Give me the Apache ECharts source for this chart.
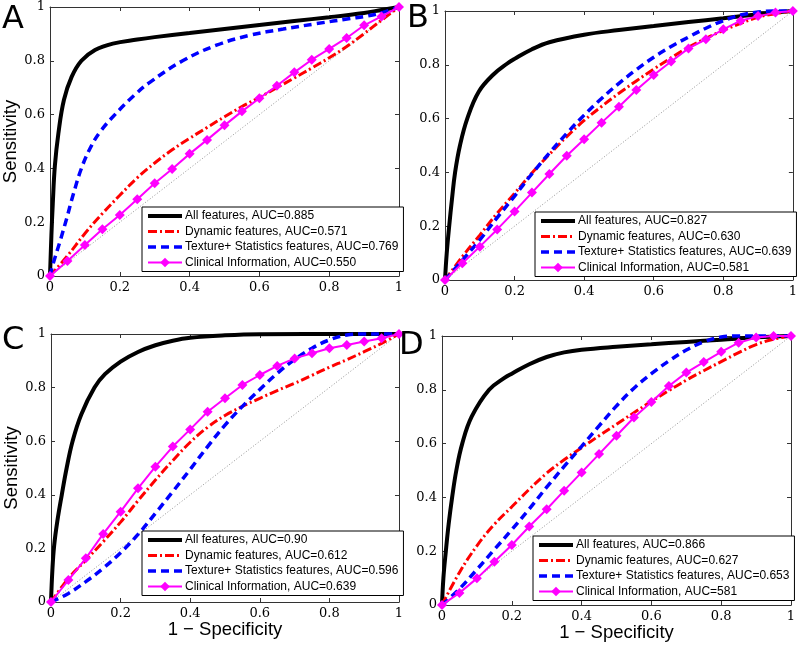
<!DOCTYPE html>
<html>
<head>
<meta charset="utf-8">
<title>ROC curves</title>
<script src="https://cdn.jsdelivr.net/npm/echarts@6/dist/echarts.min.js"></script>
<style>
  html, body { margin: 0; padding: 0; background: #fff; }
  #main { width: 800px; height: 646px; }
</style>
</head>
<body>
<div id="main"></div>
<script>
// false positive rate grid used by the sampled curves (marker positions)
const fpr = [0, 0.05, 0.1, 0.15, 0.2, 0.25, 0.3, 0.35, 0.4, 0.45, 0.5,
  0.55, 0.6, 0.65, 0.7, 0.75, 0.8, 0.85, 0.9, 0.95, 1];

// panel A
const namesA = ['All features, AUC=0.885', 'Dynamic features, AUC=0.571',
  'Texture+ Statistics features, AUC=0.769', 'Clinical Information, AUC=0.550'];
const aAll = [[0, 0], [0.004, 0.15], [0.008, 0.27], [0.014, 0.41], [0.024, 0.53], [0.04, 0.655],
  [0.062, 0.74], [0.09, 0.8], [0.129, 0.84], [0.18, 0.864], [0.25, 0.879], [0.3, 0.888], [0.4, 0.903],
  [0.5, 0.918], [0.6, 0.933], [0.7, 0.948], [0.8, 0.962], [0.9, 0.978], [0.95, 0.989], [1, 1]];
const aDyn = [0, 0.075, 0.158, 0.232, 0.30, 0.365, 0.42, 0.469, 0.512, 0.552, 0.592,
  0.63, 0.664, 0.7, 0.736, 0.773, 0.811, 0.853, 0.901, 0.951, 1];
const aTex = [[0, 0], [0.01, 0.05], [0.029, 0.13], [0.048, 0.215], [0.067, 0.305], [0.09, 0.4],
  [0.115, 0.475], [0.143, 0.535], [0.186, 0.6], [0.24, 0.67], [0.286, 0.72], [0.38, 0.8],
  [0.477, 0.858], [0.573, 0.895], [0.668, 0.918], [0.763, 0.938], [0.86, 0.957], [0.906, 0.966],
  [0.954, 0.98], [1, 1]];
const aCli = [0, 0.056, 0.115, 0.174, 0.227, 0.285, 0.345, 0.398, 0.454, 0.506, 0.56,
  0.612, 0.661, 0.707, 0.757, 0.804, 0.844, 0.885, 0.932, 0.965, 1];

// panel B
const namesB = ['All features, AUC=0.827', 'Dynamic features, AUC=0.630',
  'Texture+ Statistics features, AUC=0.639', 'Clinical Information, AUC=0.581'];
const bAll = [[0, 0], [0.005, 0.1], [0.012, 0.2], [0.02, 0.3], [0.029, 0.4], [0.043, 0.5],
  [0.064, 0.6], [0.097, 0.7], [0.14, 0.765], [0.177, 0.803], [0.2, 0.822], [0.25, 0.858], [0.3, 0.884],
  [0.4, 0.912], [0.5, 0.929], [0.6, 0.944], [0.7, 0.959], [0.8, 0.973], [0.9, 0.988], [1, 1]];
const bDyn = [0, 0.087, 0.167, 0.248, 0.322, 0.398, 0.467, 0.533, 0.593, 0.645, 0.694,
  0.74, 0.784, 0.826, 0.865, 0.898, 0.928, 0.954, 0.977, 0.99, 1];
const bTex = [0, 0.074, 0.149, 0.232, 0.312, 0.395, 0.472, 0.545, 0.613, 0.675, 0.731,
  0.782, 0.828, 0.868, 0.903, 0.936, 0.964, 0.985, 0.996, 1, 1];
const bCli = [0, 0.062, 0.124, 0.188, 0.255, 0.325, 0.394, 0.462, 0.523, 0.585, 0.644,
  0.706, 0.762, 0.812, 0.861, 0.895, 0.932, 0.964, 0.981, 0.994, 1];

// panel C
const namesC = ['All features, AUC=0.90', 'Dynamic features, AUC=0.612',
  'Texture+ Statistics features, AUC=0.596', 'Clinical Information, AUC=0.639'];
const cAll = [[0, 0], [0.004, 0.12], [0.009, 0.21], [0.018, 0.3], [0.031, 0.4], [0.045, 0.5],
  [0.062, 0.6], [0.087, 0.7], [0.125, 0.8], [0.155, 0.85], [0.2, 0.897], [0.25, 0.933],
  [0.3, 0.958], [0.35, 0.975], [0.4, 0.986], [0.5, 0.995], [0.6, 0.999], [1, 1]];
const cDyn = [0, 0.088, 0.156, 0.225, 0.298, 0.378, 0.455, 0.528, 0.596, 0.652, 0.696,
  0.73, 0.76, 0.789, 0.816, 0.846, 0.876, 0.904, 0.934, 0.965, 1];
const cTex = [0, 0.032, 0.076, 0.126, 0.184, 0.252, 0.331, 0.412, 0.495, 0.58, 0.66,
  0.73, 0.793, 0.853, 0.905, 0.947, 0.978, 0.996, 1, 1, 1];
const cCli = [0, 0.082, 0.163, 0.254, 0.337, 0.424, 0.505, 0.58, 0.644, 0.71, 0.76,
  0.81, 0.847, 0.881, 0.909, 0.928, 0.947, 0.959, 0.972, 0.984, 1];

// panel D
const namesD = ['All features, AUC=0.866', 'Dynamic features, AUC=0.627',
  'Texture+ Statistics features, AUC=0.653', 'Clinical Information, AUC=581'];
const dAll = [[0, 0], [0.004, 0.1], [0.011, 0.2], [0.019, 0.3], [0.029, 0.4], [0.041, 0.5],
  [0.058, 0.6], [0.085, 0.7], [0.135, 0.8], [0.18, 0.845], [0.2, 0.86], [0.25, 0.895],
  [0.3, 0.922], [0.35, 0.939], [0.4, 0.949], [0.5, 0.96], [0.6, 0.969], [0.7, 0.978],
  [0.8, 0.986], [0.9, 0.995], [1, 1]];
const dDyn = [0, 0.121, 0.22, 0.3, 0.365, 0.43, 0.49, 0.54, 0.585, 0.629, 0.672,
  0.715, 0.757, 0.797, 0.836, 0.871, 0.905, 0.938, 0.968, 0.988, 1];
const dTex = [0, 0.06, 0.132, 0.206, 0.28, 0.357, 0.438, 0.515, 0.59, 0.666, 0.74,
  0.806, 0.86, 0.907, 0.948, 0.978, 0.996, 1, 1, 1, 1];
const dCli = [0, 0.045, 0.099, 0.161, 0.223, 0.292, 0.356, 0.425, 0.493, 0.561, 0.629,
  0.697, 0.755, 0.814, 0.864, 0.903, 0.941, 0.975, 0.994, 1, 1];

const chanceLine = [[0, 0], [1, 1]];

const pairs = ys => fpr.map((x, i) => [x, ys[i]]);

const panels = [
  { letter: 'A', names: namesA, all: aAll, dyn: pairs(aDyn), tex: aTex, cli: pairs(aCli),
    grid: { left: 50, top: 7, width: 349, height: 269 }, legend: { left: 142, top: 207 },
    title: { left: 2, top: 4 }, yName: true, xGap: 0 },
  { letter: 'B', names: namesB, all: bAll, dyn: pairs(bDyn), tex: pairs(bTex), cli: pairs(bCli),
    grid: { left: 445, top: 11, width: 348, height: 269 }, legend: { left: 535, top: 212 },
    title: { left: 407, top: 3 }, yName: false, xGap: 0 },
  { letter: 'C', names: namesC, all: cAll, dyn: pairs(cDyn), tex: pairs(cTex), cli: pairs(cCli),
    grid: { left: 51, top: 334, width: 348, height: 268 }, legend: { left: 142, top: 531 },
    title: { left: 2, top: 325 }, yName: true, xGap: 1 },
  { letter: 'D', names: namesD, all: dAll, dyn: pairs(dDyn), tex: pairs(dTex), cli: pairs(dCli),
    grid: { left: 442, top: 336, width: 349, height: 269 }, legend: { left: 533, top: 536 },
    title: { left: 399, top: 330 }, yName: false, xGap: 17 }
];

const axisColor = '#333';
const tickFont = { fontFamily: 'DejaVu Serif', fontSize: 13, color: '#000' };
const lineWidths = [4, 3, 3.5, 2];

const option = {
  animation: false,
  backgroundColor: '#fff',
  title: [],
  grid: [],
  xAxis: [],
  yAxis: [],
  legend: [],
  series: []
};

panels.forEach((p, k) => {
  option.title.push({
    text: p.letter, left: p.title.left, top: p.title.top, padding: 0,
    textStyle: { fontFamily: 'DejaVu Sans', fontSize: 32, fontWeight: 'normal', color: '#000' }
  });
  option.grid.push(Object.assign({ containLabel: false }, p.grid));

  const base = {
    gridIndex: k, type: 'value', min: 0, max: 1, interval: 0.2,
    axisLine: { show: true, onZero: false, lineStyle: { color: axisColor, width: 1 } },
    axisTick: { show: true, inside: true, length: 4, lineStyle: { color: axisColor } },
    splitLine: { show: false }
  };
  option.xAxis.push(Object.assign({}, base, {
    position: 'bottom',
    axisLabel: Object.assign({ margin: 5 }, tickFont),
    name: k >= 2 ? '1 \u2212 Specificity' : '',
    nameLocation: 'middle', nameGap: p.xGap,
    nameTextStyle: { fontFamily: 'Liberation Sans', fontSize: 18.5, color: '#000' }
  }));
  option.xAxis.push(Object.assign({}, base, { position: 'top', axisLabel: { show: false } }));
  option.yAxis.push(Object.assign({}, base, {
    position: 'left',
    axisLabel: Object.assign({ margin: 5 }, tickFont),
    name: p.yName ? 'Sensitivity' : '',
    nameLocation: 'middle', nameGap: 25,
    nameTextStyle: { fontFamily: 'Liberation Sans', fontSize: 18.5, color: '#000' }
  }));
  option.yAxis.push(Object.assign({}, base, { position: 'right', axisLabel: { show: false } }));

  const xi = k * 2, yi = k * 2;
  option.series.push({
    type: 'line', xAxisIndex: xi, yAxisIndex: yi, data: chanceLine, symbol: 'none', silent: true,
    lineStyle: { color: '#777', width: 0.8, type: [1, 2] }, z: 1
  });
  option.series.push({
    name: p.names[0], type: 'line', xAxisIndex: xi, yAxisIndex: yi, data: p.all,
    symbol: 'none', smooth: 0.4, clip: false,
    lineStyle: { color: '#000', width: lineWidths[0] }, itemStyle: { color: '#000' }
  });
  option.series.push({
    name: p.names[1], type: 'line', xAxisIndex: xi, yAxisIndex: yi, data: p.dyn,
    symbol: 'none', smooth: 0.4, clip: false,
    lineStyle: { color: '#ff0000', width: lineWidths[1], type: [9, 3, 2, 3] }, itemStyle: { color: '#ff0000' }
  });
  option.series.push({
    name: p.names[2], type: 'line', xAxisIndex: xi, yAxisIndex: yi, data: p.tex,
    symbol: 'none', smooth: 0.4, clip: false,
    lineStyle: { color: '#0000ff', width: lineWidths[2], type: [8, 5] }, itemStyle: { color: '#0000ff' }
  });
  option.series.push({
    name: p.names[3], type: 'line', xAxisIndex: xi, yAxisIndex: yi, data: p.cli,
    symbol: 'diamond', symbolSize: 10, showAllSymbol: true, clip: false,
    lineStyle: { color: '#ff00ff', width: lineWidths[3] }, itemStyle: { color: '#ff00ff' }
  });

  option.legend.push({
    left: p.legend.left, top: p.legend.top, orient: 'vertical', selectedMode: false,
    data: p.names.map((n, i) => ({
      name: n,
      lineStyle: { width: lineWidths[i] },
      // only the clinical curve carries a marker
      itemStyle: i < 3 ? { opacity: 0 } : {}
    })),
    itemWidth: 34, itemHeight: 12, itemGap: 3.5, padding: [3, 5, 3, 4],
    borderColor: '#000', borderWidth: 1, borderRadius: 0, backgroundColor: '#fff',
    textStyle: { fontFamily: 'Liberation Sans', fontSize: 12, color: '#000', padding: [0, 0, 0, -2] }
  });
});

const myChart = echarts.init(document.getElementById('main'), null, { renderer: 'canvas' });
myChart.setOption(option);
window.addEventListener('resize', () => {
  myChart.resize();
});
</script>
</body>
</html>
